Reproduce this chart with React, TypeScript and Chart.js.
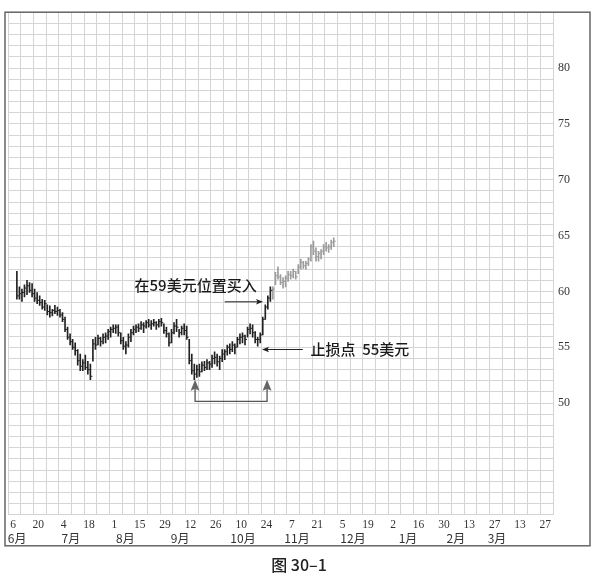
import React, { useEffect, useRef } from 'react';
import { Chart, registerables } from 'chart.js';

Chart.register(...registerables);

// ---- data ----
// trading-day index of the first bar (5 trading days per weekly grid column)
const START_DAY = 3;
// first trading day drawn in grey (later price action)
const GRAY_FROM = 104;

const highs = [
  61.8, 60.4, 60.2, 60.6, 61.0, 60.8, 60.7, 60.2, 59.9, 59.6,
  59.3, 59.2, 58.8, 58.7, 58.4, 58.75, 58.6, 58.4, 58.1, 57.7,
  56.8, 56.2, 55.7, 55.4, 54.8, 54.4, 53.9, 54.3, 53.75, 53.5,
  55.7, 55.9, 56.1, 55.9, 56.2, 56.3, 56.6, 56.8, 57.0, 57.0,
  57.0, 56.3, 55.9, 55.5, 56.2, 56.6, 56.9, 57.0, 57.1, 57.3,
  57.2, 57.4, 57.5, 57.4, 57.5, 57.3, 57.5, 57.6, 57.1, 56.8,
  56.3, 56.6, 57.2, 57.5, 56.6, 56.9, 57.1, 56.9, 55.7, 54.4,
  53.5, 53.4, 53.5, 53.7, 53.75, 53.9, 53.75, 54.3, 54.6, 54.4,
  54.2, 54.8, 54.8, 55.2, 55.3, 55.5, 55.3, 55.9, 56.2, 56.3,
  56.1, 56.8, 57.1, 57.0, 56.4, 55.9, 56.3, 57.7, 58.8, 59.6,
  60.4,
  60.4, 61.7, 62.2, 61.5, 61.25, 61.4, 61.8, 61.8, 62.0, 61.8,
  62.4, 62.9, 62.7, 62.7, 63.0, 64.2, 64.5, 63.9, 63.6, 63.75,
  64.2, 64.4, 64.2, 64.6, 64.8,
];

const lows = [
  59.3, 59.3, 59.1, 59.5, 59.7, 59.9, 59.5, 59.1, 58.9, 58.75,
  58.4, 58.3, 57.9, 57.7, 57.8, 58.0, 57.85, 57.7, 57.3, 56.4,
  55.7, 55.2, 54.8, 54.3, 53.4, 52.9, 52.9, 53.0, 52.6, 52.1,
  53.75, 54.8, 55.2, 55.1, 55.3, 55.4, 55.7, 55.9, 56.3, 56.25,
  56.0, 55.3, 54.8, 54.4, 55.0, 55.5, 56.1, 56.3, 56.4, 56.6,
  56.3, 56.7, 56.8, 56.6, 56.9, 56.6, 56.8, 56.9, 56.25, 55.9,
  55.1, 55.4, 56.2, 56.4, 55.9, 56.1, 56.1, 55.7, 53.5, 52.6,
  52.1, 52.3, 52.4, 52.8, 52.9, 53.0, 53.0, 53.2, 53.5, 53.3,
  53.0, 53.7, 53.9, 54.3, 54.4, 54.6, 54.4, 55.0, 55.3, 55.4,
  55.2, 55.9, 56.2, 55.9, 55.4, 55.1, 55.4, 56.1, 57.5, 58.4,
  59.1,
  59.3, 60.6, 61.1, 60.6, 60.3, 60.4, 60.9, 61.1, 61.2, 61.1,
  61.6, 62.0, 62.05, 62.0, 62.3, 62.7, 63.3, 62.7, 62.7, 62.9,
  63.3, 63.6, 63.5, 63.75, 64.0,
];

const closes = [
  59.6, 59.8, 59.9, 60.3, 60.5, 60.1, 59.8, 59.4, 59.2, 59.0,
  58.6, 58.9, 58.2, 58.1, 58.3, 58.2, 58.3, 57.9, 57.5, 56.6,
  55.9, 55.5, 55.0, 54.7, 53.8, 53.3, 53.6, 53.2, 53.0, 52.4,
  55.3, 55.2, 55.8, 55.5, 55.9, 56.0, 56.4, 56.6, 56.7, 56.8,
  56.3, 55.6, 55.1, 55.2, 55.9, 56.3, 56.6, 56.8, 56.7, 57.0,
  56.9, 57.2, 57.0, 57.1, 57.2, 57.0, 57.3, 57.2, 56.5, 56.2,
  55.4, 56.3, 56.9, 56.8, 56.3, 56.7, 56.5, 55.9, 53.8, 52.9,
  52.6, 53.0, 52.8, 53.4, 53.2, 53.6, 53.5, 54.0, 54.1, 53.7,
  54.0, 54.4, 54.6, 55.0, 54.8, 55.2, 55.0, 55.7, 55.9, 56.0,
  55.7, 56.6, 56.7, 56.3, 55.7, 55.7, 56.1, 57.5, 58.6, 59.4,
  60.1,
  60.2, 61.4, 61.3, 60.8, 60.9, 61.2, 61.5, 61.4, 61.8, 61.3,
  62.2, 62.6, 62.3, 62.5, 62.9, 64.0, 63.6, 63.1, 63.4, 63.6,
  64.0, 63.9, 64.0, 64.4, 64.5,
];

// x axis: tick labels every two weeks
const dayLabels = ['6', '20', '4', '18', '1', '15', '29', '12', '26', '10', '24', '7', '21', '5', '19', '2', '16', '30', '13', '27', '13', '27'];
const monthLabels = ['6月', '7月', '8月', '9月', '10月', '11月', '12月', '1月', '2月', '3月'];
const monthAt = [3.6, 24.8, 46.3, 67.9, 92.7, 114.0, 136.1, 157.8, 176.7, 192.9];
const X_MAX = 215; // 43 weeks
const Y_MIN = 40;
const Y_MAX = 85;
const yLabels = [50, 55, 60, 65, 70, 75, 80];

// annotations (in axis units: trading day, price)
const buyLabel = '在59美元位置买入';
const buyLabelAt = [74.0, 60.58];
const buyArrow = [[85.5, 59.07], [100.6, 59.07]];
const stopLabel = '止损点  55美元';
const stopLabelAt = [119.3, 54.8];
const stopArrow = [[116.3, 54.8], [100.2, 54.8]];
const bracketDays = [73.8, 102.2];
const bracketTip = 52.1;
const bracketBase = 50.16;
const caption = '图 30–1';

const CJK = '"Noto Sans CJK SC", "Noto Sans", sans-serif';
const SERIF = '"Liberation Serif", "DejaVu Serif", serif';
const BLACK = '#222';
const GRAY = '#9c9c9c';

const overlayPlugin = {
  id: 'overlay',
  afterDatasetsDraw(chart: any) {
    const { ctx } = chart;
    const xs = chart.scales.x;
    const ys = chart.scales.y;
    const X = (v: number) => xs.getPixelForValue(v);
    const Y = (v: number) => ys.getPixelForValue(v);
    const grayIdx = GRAY_FROM - START_DAY;
    ctx.save();
    // close ticks
    ctx.lineWidth = 1;
    closes.forEach((c, i) => {
      const px = X(START_DAY + i + 0.5);
      const py = Y(c);
      ctx.strokeStyle = i >= grayIdx ? GRAY : BLACK;
      ctx.beginPath();
      ctx.moveTo(px, py);
      ctx.lineTo(px + 2, py);
      ctx.stroke();
    });

    const arrowLine = (a: number[], b: number[], color: string) => {
      const x1 = X(a[0]), y1 = Y(a[1]), x2 = X(b[0]), y2 = Y(b[1]);
      const dir = Math.sign(x2 - x1) || 1;
      ctx.strokeStyle = color;
      ctx.fillStyle = color;
      ctx.lineWidth = 1;
      ctx.beginPath();
      ctx.moveTo(x1, y1);
      ctx.lineTo(x2 - dir * 5, y2);
      ctx.stroke();
      ctx.beginPath();
      ctx.moveTo(x2, y2);
      ctx.lineTo(x2 - dir * 7, y2 - 2.8);
      ctx.lineTo(x2 - dir * 5.5, y2);
      ctx.lineTo(x2 - dir * 7, y2 + 2.8);
      ctx.closePath();
      ctx.fill();
    };
    arrowLine(buyArrow[0], buyArrow[1], '#222');
    arrowLine(stopArrow[0], stopArrow[1], '#222');

    // bracket with two upward arrows
    const bx1 = X(bracketDays[0]);
    const bx2 = X(bracketDays[1]);
    const tipY = Y(bracketTip);
    const baseY = Y(bracketBase);
    ctx.strokeStyle = '#555';
    ctx.lineWidth = 1.3;
    ctx.beginPath();
    ctx.moveTo(bx1, tipY + 8);
    ctx.lineTo(bx1, baseY);
    ctx.lineTo(bx2, baseY);
    ctx.lineTo(bx2, tipY + 8);
    ctx.stroke();
    ctx.fillStyle = '#666';
    [bx1, bx2].forEach((bx) => {
      ctx.beginPath();
      ctx.moveTo(bx, tipY);
      ctx.lineTo(bx - 4.5, tipY + 11);
      ctx.lineTo(bx, tipY + 9);
      ctx.lineTo(bx + 4.5, tipY + 11);
      ctx.closePath();
      ctx.fill();
    });

    // labels
    ctx.fillStyle = '#1a1a1a';
    ctx.font = `500 15px ${CJK}`;
    ctx.textBaseline = 'middle';
    ctx.textAlign = 'center';
    ctx.fillText(buyLabel, X(buyLabelAt[0]), Y(buyLabelAt[1]));
    ctx.textAlign = 'left';
    ctx.fillText(stopLabel, X(stopLabelAt[0]), Y(stopLabelAt[1]));
    ctx.restore();
  },
  afterDraw(chart: any) {
    const { ctx, chartArea } = chart;
    const ys = chart.scales.y;
    const ms = chart.scales.m;
    ctx.save();
    ctx.strokeStyle = '#666';
    ctx.lineWidth = 1.5;
    ctx.strokeRect(chartArea.left - 3, chartArea.top, ys.right - (chartArea.left - 3), ms.bottom - chartArea.top);
    ctx.restore();
  },
};

export default function App() {
  const ref = useRef<HTMLCanvasElement | null>(null);
  useEffect(() => {
    if (!ref.current) return;
    const grayIdx = GRAY_FROM - START_DAY;
    const chart = new Chart(ref.current, {
      type: 'bar',
      data: {
        datasets: [
          {
            type: 'bar',
            xAxisID: 'x',
            yAxisID: 'y',
            data: highs.map((h, i) => ({ x: START_DAY + i + 0.5, y: [lows[i], h] })) as any,
            backgroundColor: (c: any) => (c.dataIndex >= grayIdx ? GRAY : BLACK),
            borderWidth: 0,
            barThickness: 1,
            grouped: false,
          } as any,
        ],
      },
      options: {
        responsive: false,
        devicePixelRatio: 1,
        animation: false,
        events: [],
        layout: { padding: { left: 8, top: 10, right: 7, bottom: 0 } },
        plugins: {
          legend: { display: false },
          tooltip: { enabled: false },
          title: {
            display: true,
            text: caption,
            position: 'bottom',
            color: '#222',
            font: { family: CJK, size: 16, weight: '500' as any, lineHeight: 1.2 },
            padding: { top: 10, bottom: 0 },
          },
        },
        scales: {
          x: {
            type: 'linear',
            axis: 'x',
            position: 'bottom',
            weight: 0,
            min: 0,
            max: X_MAX,
            offset: false,
            afterBuildTicks: (s: any) => {
              s.ticks = Array.from({ length: X_MAX / 5 + 1 }, (_, k) => ({ value: k * 5 }));
            },
            ticks: {
              autoSkip: false,
              maxRotation: 0,
              minRotation: 0,
              labelOffset: 5,
              padding: 3,
              color: '#333',
              font: { family: SERIF, size: 11.5 },
              callback: (v: any) => {
                const w = Math.round(Number(v) / 5);
                return w % 2 === 0 ? dayLabels[w / 2] ?? '' : '';
              },
            },
            grid: { color: '#d4d4d4', lineWidth: 1, drawTicks: false, offset: false },
            border: { display: false },
            afterFit: (s: any) => {
              s.height = 14;
            },
          } as any,
          m: {
            type: 'linear',
            axis: 'x',
            position: 'bottom',
            weight: 1,
            min: 0,
            max: X_MAX,
            offset: false,
            afterBuildTicks: (s: any) => {
              s.ticks = monthAt.map((v) => ({ value: v }));
            },
            ticks: {
              autoSkip: false,
              maxRotation: 0,
              minRotation: 0,
              padding: 2,
              color: '#333',
              font: { family: CJK, size: 12 },
              callback: (_v: any, i: number) => monthLabels[i] ?? '',
            },
            grid: { display: false, drawTicks: false },
            border: { display: false },
            afterFit: (s: any) => {
              s.height = 17;
            },
          } as any,
          y: {
            type: 'linear',
            position: 'right',
            min: Y_MIN,
            max: Y_MAX,
            afterBuildTicks: (s: any) => {
              s.ticks = Array.from({ length: Y_MAX - Y_MIN + 1 }, (_, k) => ({ value: Y_MIN + k }));
            },
            ticks: {
              autoSkip: false,
              padding: 5,
              color: '#333',
              font: { family: SERIF, size: 12 },
              callback: (v: any) => (yLabels.includes(Number(v)) ? String(v) : ''),
            },
            grid: { color: '#d4d4d4', lineWidth: 1, drawTicks: false },
            border: { display: false },
            afterFit: (s: any) => {
              s.width = 37;
            },
          } as any,
        },
      },
      plugins: [overlayPlugin],
    });
    return () => chart.destroy();
  }, []);

  return (
    <div style={{ position: 'fixed', left: 0, top: 0, width: 597, height: 575, background: '#fff' }}>
      <canvas ref={ref} width={597} height={575} />
    </div>
  );
}
